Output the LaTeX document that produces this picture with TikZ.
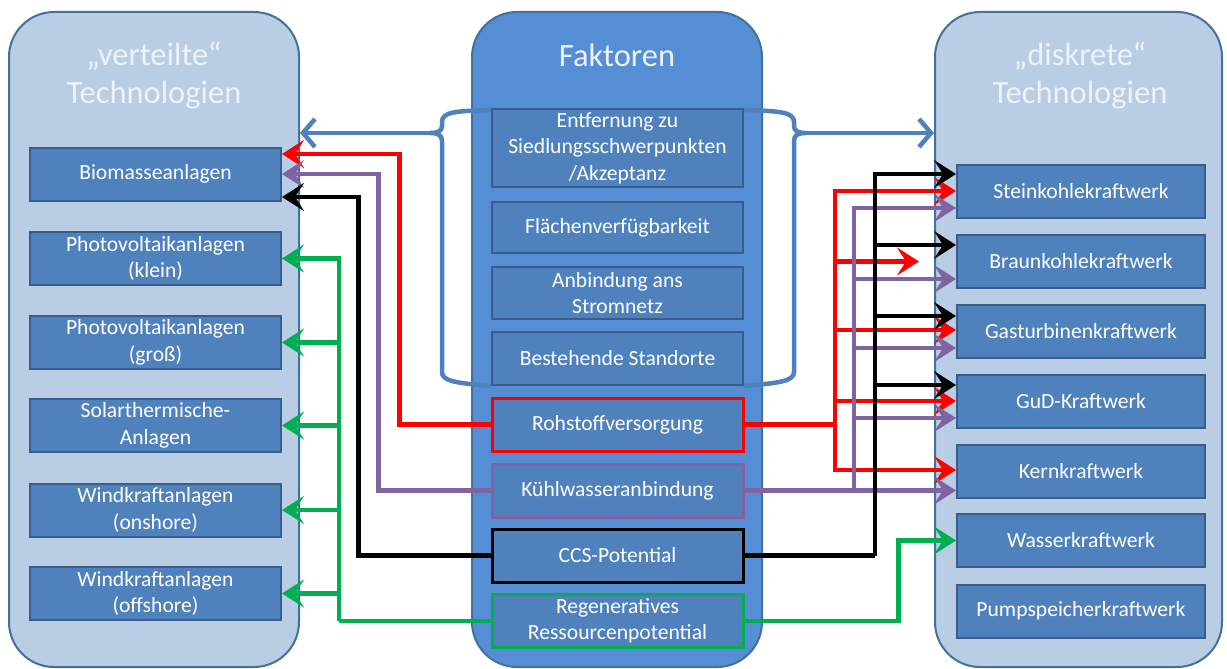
\documentclass[tikz,border=0pt]{standalone}
\usepackage{fontspec}
\setmainfont{Carlito}
\usetikzlibrary{arrows.meta}
\definecolor{plight}{HTML}{B9CDE5}
\definecolor{pdark}{HTML}{558ED5}
\definecolor{pborder}{HTML}{41719C}
\definecolor{bfill}{HTML}{4F81BD}
\definecolor{bborder}{HTML}{385D8A}
\definecolor{ttext}{HTML}{EEF3FA}
\definecolor{bluebr}{HTML}{4F81BD}
\definecolor{cred}{HTML}{FF0000}
\definecolor{cpur}{HTML}{8064A2}
\definecolor{cgreen}{HTML}{00B050}
\begin{document}
\begin{tikzpicture}[x=1pt,y=-1pt,
  panel/.style={draw=pborder, line width=2pt, rounded corners=45pt, minimum width=290pt, minimum height=655pt, inner sep=0pt},
  box/.style={draw=bborder, fill=bfill, line width=2pt, text=white, font=\fontsize{21.6}{26.5}\selectfont, align=center, minimum height=53pt, inner sep=0pt},
  lbox/.style={box, minimum width=251pt},
  cbox/.style={box, minimum width=251pt},
  rbox/.style={box, minimum width=248pt},
  title/.style={text=ttext, font=\fontsize{32.5}{38}\selectfont, align=center},
  line/.style={line width=4.5pt},
  conn/.style={line width=4.5pt, -{Stealth[length=22pt,width=28pt,inset=9pt]}},
  bluearrow/.style={line width=4.5pt, draw=bluebr, -{Straight Barb[length=12pt,width=28pt]}},
  brace/.style={line width=4.5pt, draw=bluebr}
]
\useasboundingbox (0,0) rectangle (1227,669);
\fill[white] (0,0) rectangle (1227,669);

% panels
\node[panel, fill=plight] (lp) at (154,339.5) {};
\node[panel, fill=pdark] (cp) at (617,339.5) {};
\node[panel, fill=plight, minimum width=287pt] (rp) at (1078.5,339.5) {};

% titles
\node[title] (lt) at (154,76) {„verteilte“\\Technologien};
\node[title] (ct) at (617,55) {Faktoren};
\node[title] (rt) at (1080,76) {„diskrete“\\Technologien};

% left boxes
\node[lbox] (bio) at (155.5,174) {Biomasseanlagen};
\node[lbox] (pvk) at (155.5,258.5) {Photovoltaikanlagen\\(klein)};
\node[lbox] (pvg) at (155.5,342.5) {Photovoltaikanlagen\\(groß)};
\node[lbox] (sol) at (155.5,425.5) {Solarthermische-\\Anlagen};
\node[lbox] (won) at (155.5,510) {Windkraftanlagen\\(onshore)};
\node[lbox] (wof) at (155.5,593.5) {Windkraftanlagen\\(offshore)};

% center boxes
\node[cbox, minimum height=78pt] (ent) at (617.5,148) {Entfernung zu\\Siedlungsschwerpunkten\\/Akzeptanz};
\node[cbox, minimum height=51pt] (fl) at (617.5,227.5) {Flächenverfügbarkeit};
\node[cbox, minimum height=52pt] (an) at (617.5,293) {Anbindung ans\\Stromnetz};
\node[cbox] (be) at (617.5,358.5) {Bestehende Standorte};
\node[cbox, draw=cred, line width=3pt] (roh) at (617.5,424.5) {Rohstoffversorgung};
\node[cbox, draw=cpur, line width=3pt] (kw) at (617.5,490.5) {Kühlwasseranbindung};
\node[cbox, draw=black, line width=3pt] (ccs) at (617.5,555.5) {CCS-Potential};
\node[cbox, draw=cgreen, line width=3pt] (rg) at (617.5,621) {Regeneratives\\Ressourcenpotential};

% right boxes
\node[rbox] (st) at (1081,191) {Steinkohlekraftwerk};
\node[rbox] (bk) at (1081,261.5) {Braunkohlekraftwerk};
\node[rbox] (gt) at (1081,331.5) {Gasturbinenkraftwerk};
\node[rbox] (gud) at (1081,401) {GuD-Kraftwerk};
\node[rbox] (kk) at (1081,471.5) {Kernkraftwerk};
\node[rbox] (ws) at (1081,540.5) {Wasserkraftwerk};
\node[rbox] (ps) at (1081,611) {Pumpspeicherkraftwerk};

% braces
\coordinate (bl) at (430,133);
\coordinate (br) at (806,133);
\draw[brace] (ent.north west) ++(0,2) .. controls (455,111) and (442,112) .. (442,122)
  -- (442,126) .. controls (442,131) and (438,133) .. (bl)
  .. controls (438,133) and (442,135) .. (442,141)
  -- (442,372) .. controls (442,381) and (455,383) .. (be.south west);
\draw[brace] (ent.north east) ++(0,2) .. controls (780,111) and (794,112) .. (794,122)
  -- (794,126) .. controls (794,131) and (798,133) .. (br)
  .. controls (798,133) and (794,135) .. (794,141)
  -- (794,372) .. controls (794,381) and (780,383) .. (be.south east);
\draw[bluearrow] (bl) -- (bl -| lp.east);
\draw[bluearrow] (br) -- (br -| rp.west);

% red
\coordinate (rj) at (835,424.5);
\draw[conn, cred] (roh.west) -- ++(-91,0) |- ([yshift=20pt]bio.east);
\draw[line, cred] (roh.east) -- (rj);
\draw[conn, cred] (rj) |- (st.west);
\draw[conn, cred] (rj) |- ([xshift=-37pt]bk.west);
\draw[conn, cred] (rj) |- ([yshift=1.5pt]gt.west);
\draw[conn, cred] (rj) |- (gud.west);
\draw[conn, cred] (rj) |- ([yshift=1.5pt]kk.west);

% purple
\coordinate (pj) at (854,490.5);
\draw[conn, cpur] (kw.west) -- ++(-112,0) |- (bio.east);
\draw[conn, cpur] (kw.east) -- (kw.east -| kk.west);
\draw[conn, cpur] (pj) |- ([yshift=-17pt]st.west);
\draw[conn, cpur] (pj) |- ([yshift=-17.5pt]bk.west);
\draw[conn, cpur] (pj) |- ([yshift=-16.5pt]gt.west);
\draw[conn, cpur] (pj) |- ([yshift=-17pt]gud.west);

% black
\coordinate (kj) at (875,555.5);
\draw[conn, black] (ccs.west) -- ++(-132,0) |- ([yshift=-23pt]bio.east);
\draw[line, black] (ccs.east) -- (kj);
\draw[conn, black] (kj) |- ([yshift=17pt]st.west);
\draw[conn, black] (kj) |- ([yshift=16.5pt]bk.west);
\draw[conn, black] (kj) |- ([yshift=15.5pt]gt.west);
\draw[conn, black] (kj) |- ([yshift=16pt]gud.west);

% green
\coordinate (gj) at (339,621);
\draw[line, cgreen] (rg.west) -- (gj);
\draw[conn, cgreen] (gj) |- (pvk.east);
\draw[conn, cgreen] (gj) |- (pvg.east);
\draw[conn, cgreen] (gj) |- (sol.east);
\draw[conn, cgreen] (gj) |- (won.east);
\draw[conn, cgreen] (gj) |- (wof.east);
\draw[conn, cgreen] (rg.east) -- ++(154,0) |- (ws.west);
\end{tikzpicture}
\end{document}
